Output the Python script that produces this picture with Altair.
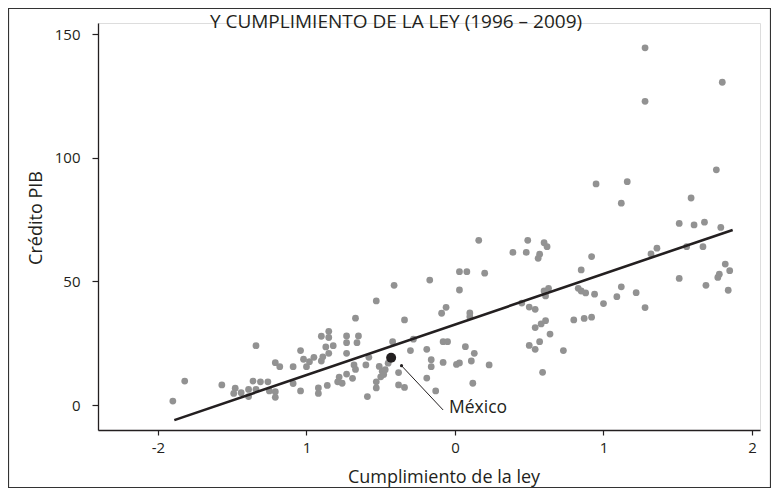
import json
import altair as alt
import pandas as pd

# ---- data ----
ley = [-1.90, -1.82, -1.57, -1.48, -1.49, -1.44, -1.39, -1.39, -1.36, -1.34,
       -1.34, -1.31, -1.26, -1.25, -1.21, -1.21, -1.21, -1.18, -1.09, -1.09,
       -1.04, -1.04, -1.02, -1.00, -0.98, -0.95, -0.92, -0.92, -0.90, -0.90,
       -0.89, -0.87, -0.86, -0.85, -0.85, -0.85, -0.82, -0.79, -0.78, -0.76,
       -0.73, -0.73, -0.73, -0.73, -0.69, -0.68, -0.67, -0.67, -0.66, -0.65,
       -0.60, -0.59, -0.58, -0.53, -0.53, -0.53, -0.51, -0.50, -0.49, -0.48,
       -0.47, -0.45, -0.42, -0.41, -0.38, -0.38, -0.34, -0.34, -0.30, -0.28,
       -0.19, -0.19, -0.17, -0.16, -0.16, -0.13, -0.09, -0.06, -0.08, -0.05,
       -0.08, 0.01, 0.03, 0.03, 0.03, 0.08, 0.07, 0.10, 0.10, 0.11,
       0.12, 0.13, 0.16, 0.20, 0.23, 0.39, 0.48, 0.49, 0.60, 0.62,
       0.57, 0.56, 0.60, 0.63, 0.61, 0.45, 0.50, 0.54, 0.54, 0.58,
       0.61, 0.64, 0.57, 0.50, 0.54, 0.73, 0.59, 0.85, 0.92, 0.83,
       0.85, 0.88, 0.94, 1.00, 0.80, 0.87, 0.92, 1.09, 1.12, 1.22,
       1.28, 1.12, 1.32, 1.36, 1.51, 1.61, 1.68, 1.79, 1.56, 1.67,
       1.82, 1.85, 1.78, 1.77, 1.51, 1.69, 1.84, 1.28, 1.80, 1.28,
       1.76, 0.95, 1.16, 1.59]
credito = [1.6, 9.7, 8.1, 6.8, 4.7, 5.0, 6.3, 3.4, 9.7, 6.3,
           24.0, 9.4, 9.4, 5.7, 5.4, 3.1, 17.1, 15.5, 15.5, 8.7,
           22.0, 5.7, 18.5, 15.5, 17.5, 19.3, 6.9, 4.7, 27.8, 17.8,
           19.5, 23.5, 7.9, 29.8, 27.3, 20.9, 24.0, 9.4, 11.3, 8.8,
           27.9, 25.2, 20.9, 12.5, 10.8, 16.2, 14.4, 35.1, 25.2, 27.9,
           16.2, 3.4, 19.3, 42.1, 6.9, 9.4, 15.6, 11.4, 13.7, 12.3,
           14.3, 16.9, 25.6, 48.4, 13.1, 8.1, 7.1, 34.4, 22.0, 26.6,
           22.5, 10.9, 50.5, 18.3, 15.5, 5.7, 37.1, 39.5, 25.6, 25.6,
           17.2, 16.4, 17.0, 46.5, 53.9, 53.9, 23.6, 37.2, 35.7, 17.8,
           8.8, 20.9, 66.6, 53.3, 16.2, 61.7, 61.7, 66.6, 65.6, 64.0,
           61.0, 59.3, 46.1, 47.2, 44.1, 41.2, 39.6, 38.7, 31.3, 32.8,
           34.1, 28.7, 25.6, 24.1, 22.5, 22.0, 13.2, 54.6, 60.0, 47.2,
           46.1, 45.3, 44.8, 41.0, 34.4, 35.0, 35.5, 43.8, 47.8, 45.4,
           39.4, 81.6, 61.1, 63.4, 73.4, 72.8, 73.9, 71.8, 64.0, 64.0,
           57.0, 54.3, 52.9, 51.6, 51.2, 48.4, 46.4, 144.4, 130.5, 122.8,
           95.1, 89.4, 90.3, 83.7]

mexico_ley = [-0.43]
mexico_credito = [19.1]

fit_ley = [-1.89, 1.87]
fit_credito = [-6.1, 70.8]

annot_label = ["México"]
annot_start_ley = [-0.36]
annot_start_credito = [15.9]
annot_end_ley = [-0.08]
annot_end_credito = [-2.0]
annot_text_ley = [-0.04]
annot_text_credito = [-3.2]

x_ticks = [-2, -1, 0, 1, 2]
x_tick_labels = ["-2", "1", "0", "1", "2"]
y_ticks = [0, 50, 100, 150]

title_text = "Y CUMPLIMIENTO DE LA LEY (1996 – 2009)"
x_title = "Cumplimiento de la ley"
y_title = "Crédito PIB"

# ---- chart ----
FONT = "Open Sans"
INK = "#231f20"
W, H = 662, 407

label_expr = "%s[indexof(%s, datum.value)]" % (json.dumps(x_tick_labels), json.dumps(x_ticks))

xscale = alt.Scale(domain=[-2.404, 2.054], nice=False, zero=False)
yscale = alt.Scale(domain=[-10.1, 154.45], nice=False, zero=False)

xaxis = alt.Axis(values=x_ticks, labelExpr=label_expr, title=x_title, grid=False,
                 labelFont=FONT, labelFontSize=15, labelColor=INK, labelPadding=5,
                 labelFlush=False, tickSize=5, tickColor=INK, tickWidth=1.2,
                 domainColor=INK, domainWidth=1.3,
                 titleFont=FONT, titleFontSize=18, titleFontWeight="normal",
                 titleColor=INK, titleX=345.5, titleY=52, titleAlign="center",
                 titleBaseline="alphabetic")
yaxis = alt.Axis(values=y_ticks, title=y_title, grid=False,
                 labelFont=FONT, labelFontSize=15, labelColor=INK, labelPadding=12,
                 tickSize=6, tickColor=INK, tickWidth=1.2,
                 domainColor=INK, domainWidth=1.3,
                 titleFont=FONT, titleFontSize=18, titleFontWeight="normal",
                 titleColor=INK, titleX=-61.5, titleY=194.5, titleAngle=270,
                 titleAlign="center", titleBaseline="middle")

X = alt.X("ley:Q", scale=xscale, axis=xaxis)
Y = alt.Y("credito:Q", scale=yscale, axis=yaxis)

pts_df = pd.DataFrame({"ley": ley, "credito": credito})
mex_df = pd.DataFrame({"ley": mexico_ley, "credito": mexico_credito})
fit_df = pd.DataFrame({"ley": fit_ley, "credito": fit_credito})
lead_df = pd.DataFrame({"ley": annot_start_ley, "credito": annot_start_credito,
                        "ley2": annot_end_ley, "credito2": annot_end_credito})
txt_df = pd.DataFrame({"ley": annot_text_ley, "credito": annot_text_credito,
                       "label": annot_label})
one = pd.DataFrame({"t": [title_text]})

border = alt.Chart(one).mark_rect(fillOpacity=0, stroke="#333333", strokeWidth=1.2).encode(
    x=alt.value(-89.5), x2=alt.value(672.5), y=alt.value(-14.5), y2=alt.value(464.5))

points = alt.Chart(pts_df).mark_circle(size=46, color="#929292", opacity=1).encode(x=X, y=Y)

fit = alt.Chart(fit_df).mark_line(color=INK, strokeWidth=2.6).encode(x=X, y=Y)

mexico = alt.Chart(mex_df).mark_circle(size=100, color=INK, opacity=1).encode(x=X, y=Y)

lead = alt.Chart(lead_df).mark_rule(color=INK, strokeWidth=1).encode(
    x=X, y=Y, x2="ley2:Q", y2="credito2:Q")
lead_dot = alt.Chart(lead_df).mark_circle(size=10, color=INK, opacity=1).encode(x=X, y=Y)

mex_text = alt.Chart(txt_df).mark_text(font=FONT, fontSize=17.5, color=INK, align="left",
                                       baseline="alphabetic").encode(x=X, y=Y, text="label:N")

title = alt.Chart(one).mark_text(font=FONT, fontSize=19, color=INK, align="center",
                                 baseline="alphabetic").encode(
    x=alt.value(298), y=alt.value(5), text="t:N")

chart = alt.layer(border, points, fit, mexico, lead, lead_dot, mex_text, title).properties(
    width=W, height=H,
    autosize=alt.AutoSizeParams(type="none"),
    padding={"left": 90, "top": 15, "right": 11, "bottom": 58},
).configure_view(stroke=None).configure(background="white")

chart.save("out.html", embed_options={"renderer": "svg", "actions": False})
